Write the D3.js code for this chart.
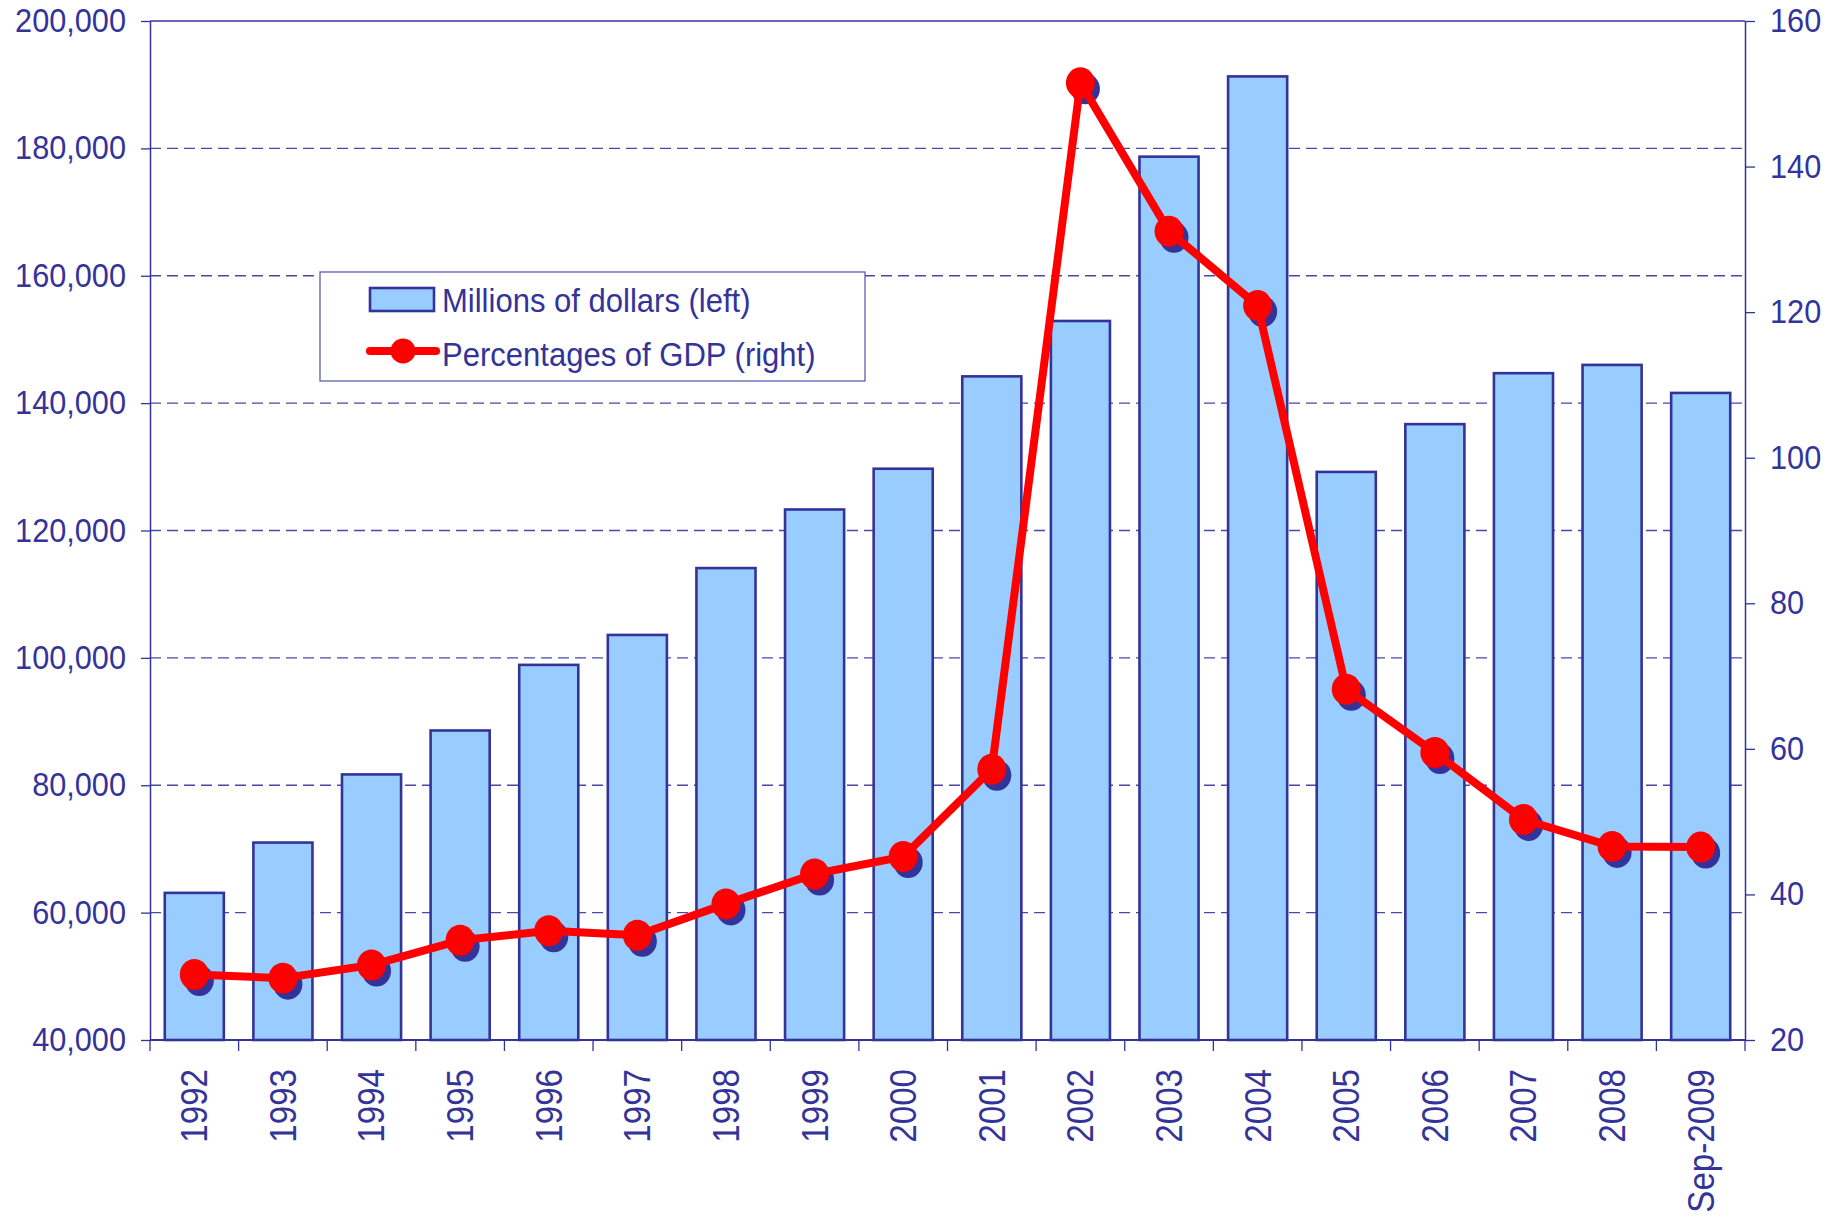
<!DOCTYPE html>
<html>
<head>
<meta charset="utf-8">
<script src="https://cdn.jsdelivr.net/npm/d3@7"></script>
<style>
  body { margin: 0; background: #fff; }
  svg text { font-family: "Liberation Sans", Arial, sans-serif; fill: #333399; }
</style>
</head>
<body>
<div id="chart"></div>
<script>
// chart data
const years = ["1992", "1993", "1994", "1995", "1996", "1997", "1998", "1999", "2000",
  "2001", "2002", "2003", "2004", "2005", "2006", "2007", "2008", "Sep-2009"];
const millions = [63100, 71000, 81700, 88600, 98900, 103600, 114100, 123300, 129700,
  144200, 152900, 178700, 191300, 129200, 136700, 144700, 146000, 141600];
const pctGdp = [29.0, 28.5, 30.3, 33.7, 35.0, 34.4, 38.7, 42.8, 45.2,
  57.2, 151.5, 131.1, 120.9, 68.2, 59.5, 50.3, 46.6, 46.5];
const leftTicks = [40000, 60000, 80000, 100000, 120000, 140000, 160000, 180000, 200000];
const rightTicks = [20, 40, 60, 80, 100, 120, 140, 160];
const legendLabels = ["Millions of dollars (left)", "Percentages of GDP (right)"];

const W = 1836, H = 1218;
const plotL = 150, plotR = 1745, plotT = 21, plotB = 1040;
const ink = "#333399";

// the source font is a little narrow, squeeze text to match
function squeeze(sel, k) {
  sel.each(function() {
    const len = this.getComputedTextLength();
    d3.select(this).attr("textLength", len * k).attr("lengthAdjust", "spacingAndGlyphs");
  });
}

const svg = d3.select("#chart").append("svg")
    .attr("width", W)
    .attr("height", H);

const x = d3.scaleBand()
    .domain(years)
    .range([plotL, plotR])
    .paddingInner(1 / 3)
    .paddingOuter(1 / 6);

const yL = d3.scaleLinear().domain([40000, 200000]).range([plotB, plotT]);
const yR = d3.scaleLinear().domain([20, 160]).range([plotB, plotT]);

// dashed gridlines
svg.append("g")
  .selectAll("line")
  .data(leftTicks.slice(1, -1))
  .join("line")
    .attr("x1", plotL).attr("x2", plotR)
    .attr("y1", d => yL(d)).attr("y2", d => yL(d))
    .attr("stroke", "#4848a8")
    .attr("stroke-width", 1.3)
    .attr("stroke-dasharray", "11,6");

// top border
svg.append("line")
    .attr("x1", plotL).attr("x2", plotR)
    .attr("y1", plotT).attr("y2", plotT)
    .attr("stroke", ink).attr("stroke-width", 1.5);

// bars
svg.append("g")
  .selectAll("rect")
  .data(years)
  .join("rect")
    .attr("x", d => x(d))
    .attr("y", (d, i) => yL(millions[i]))
    .attr("width", x.bandwidth())
    .attr("height", (d, i) => plotB - yL(millions[i]))
    .attr("fill", "#99ccff")
    .attr("stroke", ink)
    .attr("stroke-width", 2.6);

// left axis
const axL = svg.append("g")
    .attr("transform", `translate(${plotL},0)`)
    .call(d3.axisLeft(yL).tickValues(leftTicks).tickFormat(d3.format(","))
      .tickSize(9).tickSizeOuter(0).tickPadding(15));

// right axis
const axR = svg.append("g")
    .attr("transform", `translate(${plotR},0)`)
    .call(d3.axisRight(yR).tickValues(rightTicks)
      .tickSize(10).tickSizeOuter(0).tickPadding(15));

[axL, axR].forEach(ax => {
  ax.select(".domain").attr("stroke", ink).attr("stroke-width", 1.5);
  ax.selectAll(".tick line").attr("stroke", ink).attr("stroke-width", 1.3);
  ax.selectAll(".tick text").attr("font-size", 33).attr("fill", ink).call(squeeze, 0.93);
});

// bottom axis with ticks between categories
const bottomAxis = svg.append("g");
bottomAxis.append("line")
    .attr("x1", plotL).attr("x2", plotR)
    .attr("y1", plotB).attr("y2", plotB)
    .attr("stroke", ink).attr("stroke-width", 2);

const edges = years.map(d => x(d) - x.step() * x.paddingInner() / 2).concat([plotR]);
bottomAxis.selectAll(".xtick")
  .data(edges)
  .join("line")
    .attr("class", "xtick")
    .attr("x1", d => d).attr("x2", d => d)
    .attr("y1", plotB).attr("y2", plotB + 11)
    .attr("stroke", ink).attr("stroke-width", 1.3);

bottomAxis.selectAll("text")
  .data(years)
  .join("text")
    .attr("transform", d => `translate(${x(d) + x.bandwidth() / 2},${plotB + 29}) rotate(-90)`)
    .attr("text-anchor", "end")
    .attr("dy", "0.36em")
    .attr("font-size", 36)
    .text(d => d)
    .call(squeeze, 0.92);

// percentages line with shadowed markers
const pts = years.map((d, i) => [x(d) + x.bandwidth() / 2, yR(pctGdp[i])]);

svg.append("g")
  .selectAll("ellipse")
  .data(pts)
  .join("ellipse")
    .attr("cx", d => d[0] + 5)
    .attr("cy", d => d[1] + 6)
    .attr("rx", 14.5)
    .attr("ry", 15.5)
    .attr("fill", ink);

svg.append("path")
    .datum(pts)
    .attr("d", d3.line())
    .attr("fill", "none")
    .attr("stroke", "#ff0000")
    .attr("stroke-width", 8)
    .attr("stroke-linejoin", "round");

svg.append("g")
  .selectAll("ellipse")
  .data(pts)
  .join("ellipse")
    .attr("cx", d => d[0])
    .attr("cy", d => d[1])
    .attr("rx", 14.5)
    .attr("ry", 15.5)
    .attr("fill", "#ff0000");

// legend
const lg = svg.append("g").attr("transform", "translate(320,272)");
lg.append("rect")
    .attr("width", 545).attr("height", 109)
    .attr("fill", "#fff")
    .attr("stroke", "#5050a8").attr("stroke-width", 1.2);
lg.append("rect")
    .attr("x", 50).attr("y", 16).attr("width", 64).attr("height", 23)
    .attr("fill", "#99ccff").attr("stroke", ink).attr("stroke-width", 2.6);
lg.append("line")
    .attr("x1", 50).attr("x2", 116).attr("y1", 79).attr("y2", 79)
    .attr("stroke", "#ff0000").attr("stroke-width", 8).attr("stroke-linecap", "round");
lg.append("ellipse")
    .attr("cx", 83).attr("cy", 79).attr("rx", 12.5).attr("ry", 12.5).attr("fill", "#ff0000");
lg.selectAll("text.lab")
  .data(legendLabels)
  .join("text")
    .attr("class", "lab")
    .attr("x", 122)
    .attr("y", (d, i) => i === 0 ? 40 : 94)
    .attr("font-size", 33)
    .text(d => d)
    .call(squeeze, 0.94);
</script>
</body>
</html>
